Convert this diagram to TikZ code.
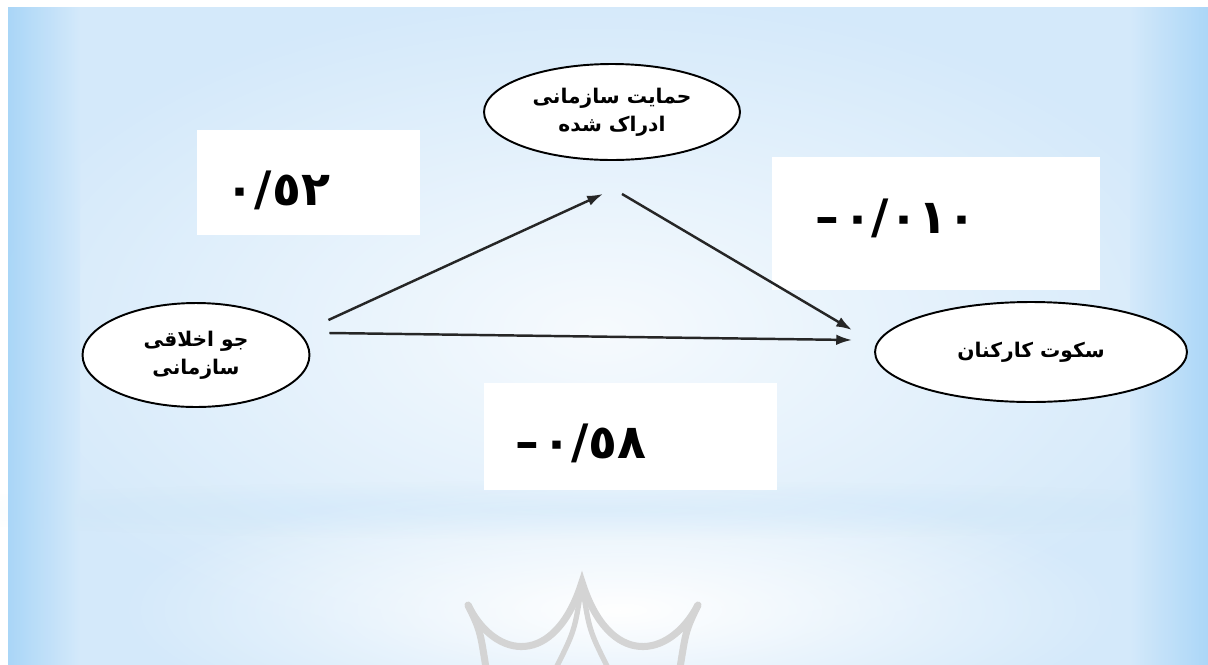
\documentclass[tikz,border=0pt]{standalone}
\usepackage{fontspec}
\usetikzlibrary{shapes.geometric,arrows.meta,fadings}
\newfontfamily\arabicfont[Script=Arabic]{DejaVu Sans}
\TeXXeTstate=1
\definecolor{bgA}{RGB}{212,233,250}
\definecolor{bgEdge}{RGB}{165,212,247}
\definecolor{crown}{RGB}{212,212,212}
\tikzfading[name=glow, inner color=transparent!0, outer color=transparent!100]
\tikzset{
  ell/.style={ellipse, draw=black, line width=1.1pt, fill=white, inner sep=0pt,
    font=\arabicfont\bfseries\fontsize{11.5}{16}\selectfont, align=center},
  valbox/.style={rectangle, fill=white, draw=none, inner sep=0pt},
  valtext/.style={inner sep=0pt, font=\arabicfont\bfseries\fontsize{27}{30}\selectfont},
  arr/.style={draw=black!85, line width=1.4pt, -{Latex[length=9pt,width=6pt]}},
}
\begin{document}
\begin{tikzpicture}[x=0.02cm,y=-0.02cm]
\useasboundingbox (0,0) rectangle (1208,664);
% background
\fill[white] (0,0) rectangle (1208,664);
\fill[bgA] (8,7) rectangle (1212,670);
\fill[white, path fading=glow, fill opacity=0.8] (600,330) ellipse [x radius=640, y radius=340];
\fill[white, path fading=glow] (620,610) ellipse [x radius=500, y radius=130];
\fill[bgEdge, path fading=glow, fill opacity=0.2] (600,510) ellipse [x radius=720, y radius=30];
\shade[left color=bgEdge, right color=bgA, opacity=0.9] (8,7) rectangle (80,670);
\shade[left color=bgA, right color=bgEdge, opacity=0.9] (1130,7) rectangle (1212,670);
% crown watermark
\draw[crown, line width=4pt, line cap=round]
  (468,605) .. controls (495,660) and (555,668) .. (582,582)
  .. controls (609,668) and (669,660) .. (698,605);
\draw[crown, line width=4pt] (468,605) .. controls (480,630) .. (486,668);
\draw[crown, line width=4pt] (698,605) .. controls (686,630) .. (680,668);
\draw[crown, line width=3pt] (582,582) .. controls (575,630) .. (556,668);
\draw[crown, line width=3pt] (582,582) .. controls (589,630) .. (608,668);
% value boxes
\node[valbox, minimum width=4.46cm, minimum height=2.1cm] (b1) at (308.5,182.5) {};
\node[valbox, minimum width=6.56cm, minimum height=2.66cm] (b2) at (936,223.5) {};
\node[valbox, minimum width=5.86cm, minimum height=2.14cm] (b3) at (630.5,436.5) {};
\node[valtext] (n1) at (278,190) {\mbox{٠/٥٢}};
\node[valtext] (n2) at (896,218) {\mbox{–}\hspace{2pt}\mbox{٠/٠١٠}};
\node[valtext] (n3) at (581,443) {\mbox{–}\hspace{2pt}\mbox{٠/٥٨}};
% ellipses
\node[ell, minimum width=5.12cm, minimum height=1.92cm] (top) at (612,112)
  {\beginR حمایت سازمانی\endR\\\beginR ادراک شده\endR};
\node[ell, minimum width=4.54cm, minimum height=2.08cm] (left) at (196,355)
  {\beginR جو اخلاقی\endR\\\beginR سازمانی\endR};
\node[ell, minimum width=6.24cm, minimum height=2.0cm] (right) at (1031,352)
  {\beginR سکوت کارکنان\endR};
% arrows
\draw[arr] ([shift={(18,-35)}]left.east) -- ([shift={(-9,33)}]top.south);
\draw[arr] ([shift={(10,33)}]top.south) -- ([shift={(-22,-22)}]right.west);
\draw[arr] ([shift={(19,-22)}]left.east) -- ([shift={(-22,-12)}]right.west);
\end{tikzpicture}
\end{document}
